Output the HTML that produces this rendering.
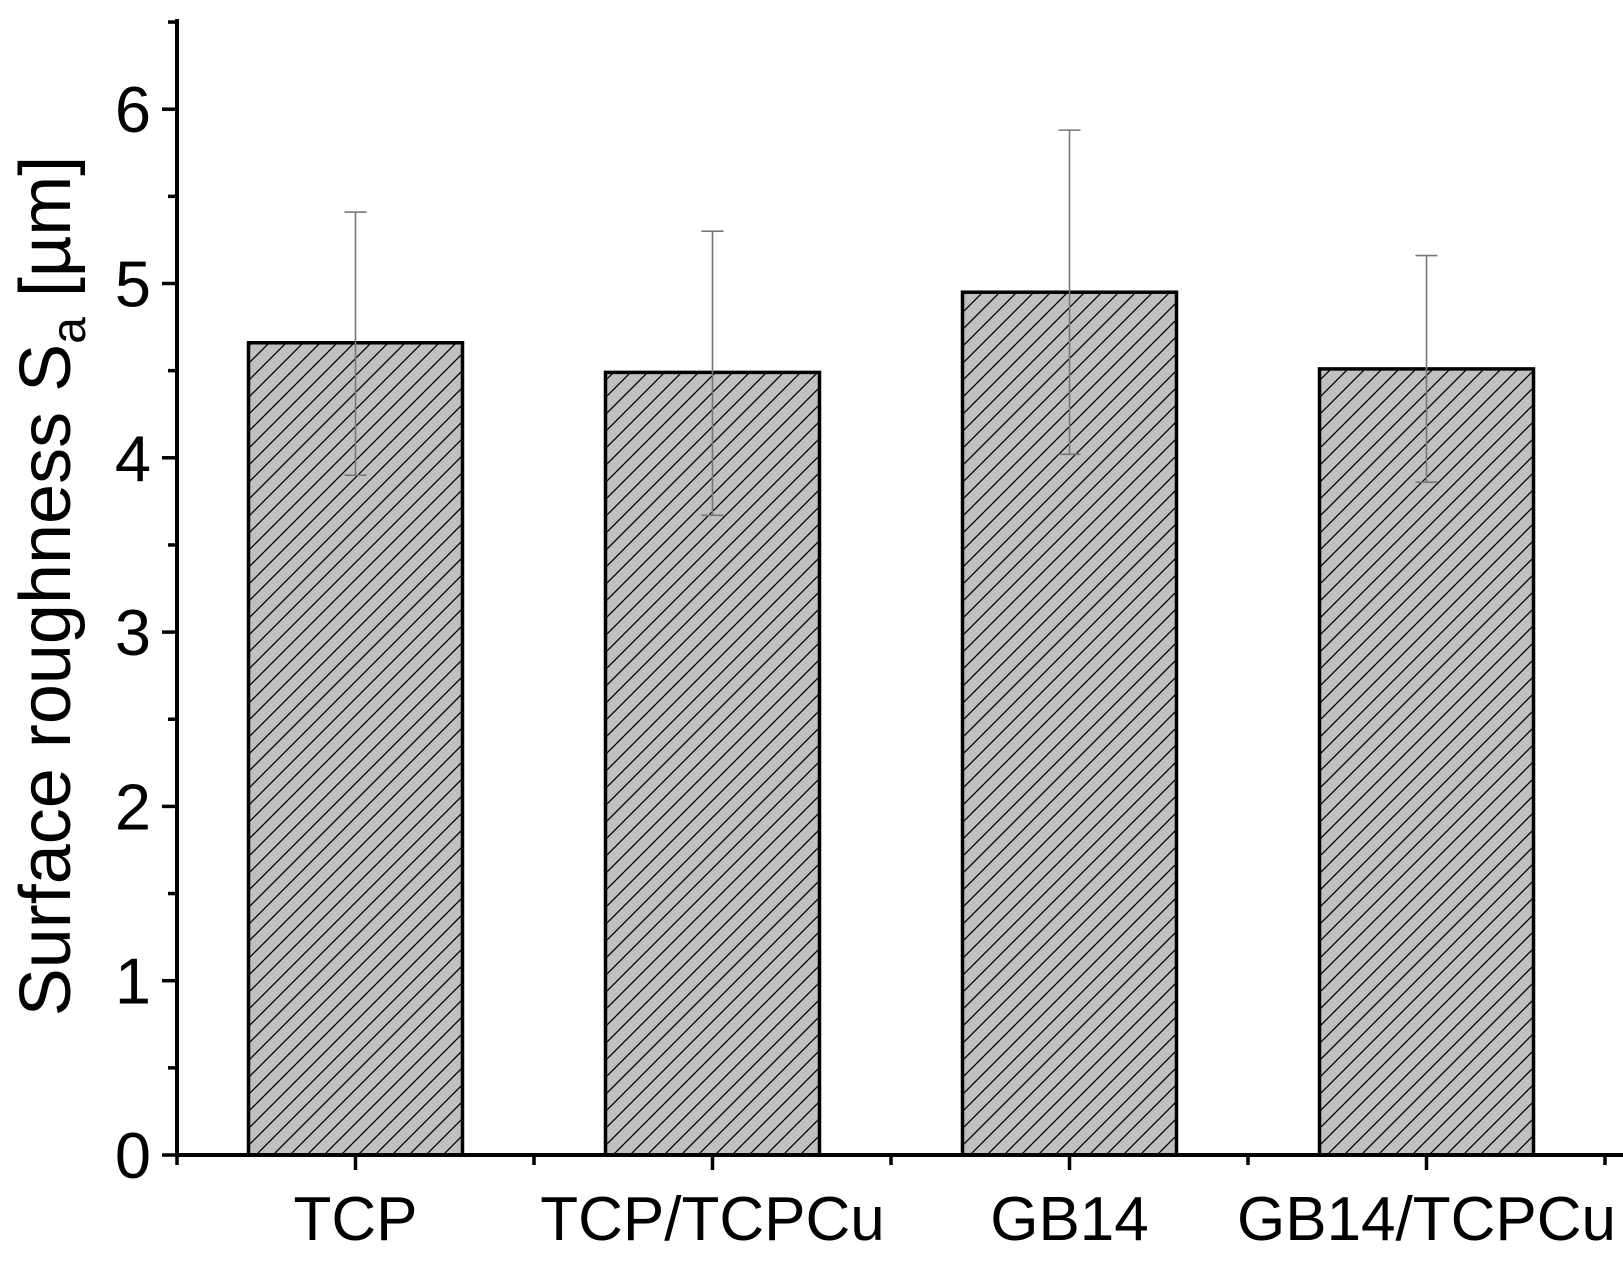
<!DOCTYPE html>
<html><head><meta charset="utf-8"><style>
html,body{margin:0;padding:0;background:#fff}
svg{display:block;font-family:"Liberation Sans",Arial,sans-serif}
</style></head><body>
<svg id="chart" width="1623" height="1261" viewBox="0 0 1623 1261">
<defs>
<pattern id="hatch" patternUnits="userSpaceOnUse" width="17" height="17">
<rect width="17" height="17" fill="#c0c0c0"/>
<path d="M-2,2 L2,-2 M0,17 L17,0 M15,19 L19,15" stroke="#000" stroke-width="1.3"/>
</pattern>
</defs>
<g id="plot"></g>
</svg>
<script>
const categories = ["TCP","TCP/TCPCu","GB14","GB14/TCPCu"];
const values = [4.66, 4.49, 4.95, 4.51];
const errUpper = [5.41, 5.30, 5.88, 5.16];
const errLower = [3.90, 3.67, 4.02, 3.86];
const yTicks = [0,1,2,3,4,5,6];

const NS="http://www.w3.org/2000/svg";
const g=document.getElementById('plot');
const axX=177, y0=1155, unit=174.3, x0=177, step=357, bw=214;
function y(v){return y0-v*unit;}
function xc(i){return x0+step*(i+0.5);}
function mk(t,a,parent){const e=document.createElementNS(NS,t);for(const k in a)e.setAttribute(k,a[k]);(parent||g).appendChild(e);return e;}

categories.forEach((c,i)=>{
  const r=mk('rect',{x:xc(i)-bw/2,y:y(values[i]),width:bw,height:y0-y(values[i]),fill:'url(#hatch)',stroke:'#000','stroke-width':3.5});
  
  
  const e=mk('path',{d:`M${xc(i)},${y(errUpper[i])}V${y(errLower[i])}M${xc(i)-11},${y(errUpper[i])}h22M${xc(i)-11},${y(errLower[i])}h22`,stroke:'#777','stroke-width':1.6,fill:'none'});
  
  
  const t=mk('text',{x:xc(i),y:1240,'font-size':62,'text-anchor':'middle'});
  t.textContent=c;
  
  
  mk('line',{x1:xc(i),x2:xc(i),y1:y0,y2:y0+15,stroke:'#000','stroke-width':3.5});
});
for(let i=0;i<=categories.length;i++){
  mk('line',{x1:x0+step*i,x2:x0+step*i,y1:y0,y2:y0+10,stroke:'#000','stroke-width':3.5});
}
yTicks.forEach(v=>{
  mk('line',{x1:axX-15,x2:axX,y1:y(v),y2:y(v),stroke:'#000','stroke-width':3.5});
  mk('line',{x1:axX-9,x2:axX,y1:y(v+0.5),y2:y(v+0.5),stroke:'#000','stroke-width':3.5});
  const t=mk('text',{x:axX-26,y:y(v)+23,'font-size':65,'text-anchor':'end'});
  t.textContent=v;
  
  
});
const ax=mk('path',{d:`M${axX},19V${y0}H1623`,stroke:'#000','stroke-width':4,fill:'none'});


const yt=mk('text',{x:0,y:0,'font-size':72,'text-anchor':'middle',transform:'translate(70,586) rotate(-90)'});
yt.innerHTML='Surface roughness S<tspan font-size="48" dy="15">a</tspan><tspan dy="-15"> [µm]</tspan>';


</script>
</body></html>
